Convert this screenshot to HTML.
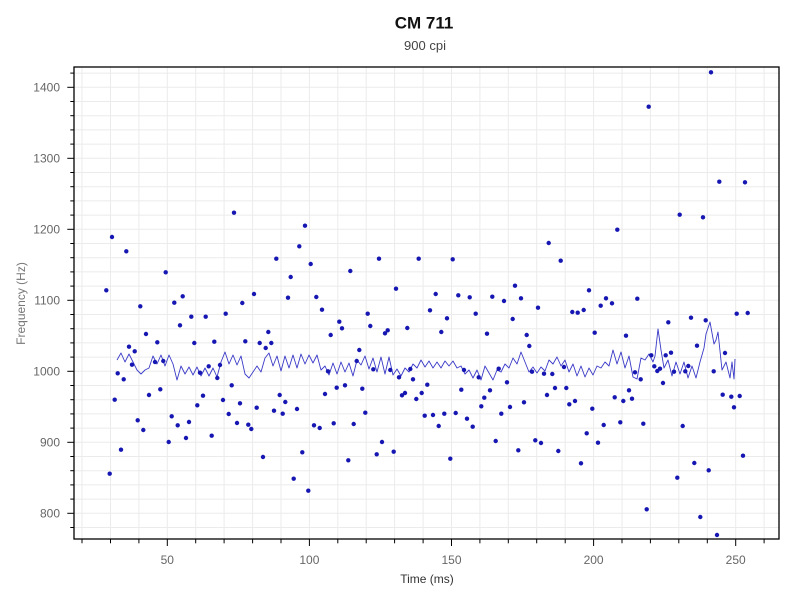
<!DOCTYPE html>
<html>
<head>
<meta charset="utf-8">
<style>
html,body{margin:0;padding:0;background:#fff;}
svg{display:block;}
text{font-family:"Liberation Sans",sans-serif;}
</style>
</head>
<body>
<svg width="800" height="600" viewBox="0 0 800 600" xmlns="http://www.w3.org/2000/svg">
<rect x="0" y="0" width="800" height="600" fill="#fff"/>
<text x="424" y="28.5" text-anchor="middle" font-size="17" font-weight="bold" fill="#111">CM 711</text>
<text x="425" y="50" text-anchor="middle" font-size="13" fill="#444">900 cpi</text>

<g stroke="#ebebeb" stroke-width="1">
<line x1="82" y1="67" x2="82" y2="539"/>
<line x1="110.5" y1="67" x2="110.5" y2="539"/>
<line x1="138.9" y1="67" x2="138.9" y2="539"/>
<line x1="167.3" y1="67" x2="167.3" y2="539"/>
<line x1="195.7" y1="67" x2="195.7" y2="539"/>
<line x1="224.1" y1="67" x2="224.1" y2="539"/>
<line x1="252.6" y1="67" x2="252.6" y2="539"/>
<line x1="281" y1="67" x2="281" y2="539"/>
<line x1="309.4" y1="67" x2="309.4" y2="539"/>
<line x1="337.8" y1="67" x2="337.8" y2="539"/>
<line x1="366.2" y1="67" x2="366.2" y2="539"/>
<line x1="394.6" y1="67" x2="394.6" y2="539"/>
<line x1="423.1" y1="67" x2="423.1" y2="539"/>
<line x1="451.5" y1="67" x2="451.5" y2="539"/>
<line x1="479.9" y1="67" x2="479.9" y2="539"/>
<line x1="508.3" y1="67" x2="508.3" y2="539"/>
<line x1="536.7" y1="67" x2="536.7" y2="539"/>
<line x1="565.2" y1="67" x2="565.2" y2="539"/>
<line x1="593.6" y1="67" x2="593.6" y2="539"/>
<line x1="622" y1="67" x2="622" y2="539"/>
<line x1="650.4" y1="67" x2="650.4" y2="539"/>
<line x1="678.8" y1="67" x2="678.8" y2="539"/>
<line x1="707.3" y1="67" x2="707.3" y2="539"/>
<line x1="735.7" y1="67" x2="735.7" y2="539"/>
<line x1="764.1" y1="67" x2="764.1" y2="539"/>
<line x1="74" y1="73.1" x2="779" y2="73.1"/>
<line x1="74" y1="87.3" x2="779" y2="87.3"/>
<line x1="74" y1="101.5" x2="779" y2="101.5"/>
<line x1="74" y1="115.7" x2="779" y2="115.7"/>
<line x1="74" y1="129.9" x2="779" y2="129.9"/>
<line x1="74" y1="144.1" x2="779" y2="144.1"/>
<line x1="74" y1="158.3" x2="779" y2="158.3"/>
<line x1="74" y1="172.5" x2="779" y2="172.5"/>
<line x1="74" y1="186.7" x2="779" y2="186.7"/>
<line x1="74" y1="200.9" x2="779" y2="200.9"/>
<line x1="74" y1="215.1" x2="779" y2="215.1"/>
<line x1="74" y1="229.3" x2="779" y2="229.3"/>
<line x1="74" y1="243.5" x2="779" y2="243.5"/>
<line x1="74" y1="257.7" x2="779" y2="257.7"/>
<line x1="74" y1="271.9" x2="779" y2="271.9"/>
<line x1="74" y1="286.1" x2="779" y2="286.1"/>
<line x1="74" y1="300.3" x2="779" y2="300.3"/>
<line x1="74" y1="314.5" x2="779" y2="314.5"/>
<line x1="74" y1="328.7" x2="779" y2="328.7"/>
<line x1="74" y1="342.9" x2="779" y2="342.9"/>
<line x1="74" y1="357.1" x2="779" y2="357.1"/>
<line x1="74" y1="371.3" x2="779" y2="371.3"/>
<line x1="74" y1="385.5" x2="779" y2="385.5"/>
<line x1="74" y1="399.7" x2="779" y2="399.7"/>
<line x1="74" y1="413.9" x2="779" y2="413.9"/>
<line x1="74" y1="428.1" x2="779" y2="428.1"/>
<line x1="74" y1="442.3" x2="779" y2="442.3"/>
<line x1="74" y1="456.5" x2="779" y2="456.5"/>
<line x1="74" y1="470.7" x2="779" y2="470.7"/>
<line x1="74" y1="484.9" x2="779" y2="484.9"/>
<line x1="74" y1="499.1" x2="779" y2="499.1"/>
<line x1="74" y1="513.3" x2="779" y2="513.3"/>
<line x1="74" y1="527.5" x2="779" y2="527.5"/>
</g>

<polyline fill="none" stroke="#3a3ac8" stroke-width="0.9" stroke-linejoin="round" points="117,360 121,353 125,362 129,354 133,362 137,370 141,374 145,370 149,368 153,356 157,364 161,355 165,366 169,355 173,364 177,380 181,366 185,374 189,367 193,375 197,367 201,376 205,368 209,376 213,368 217,377 221,362 225,352 229,364 233,355 237,365 241,356 245,374 249,378 253,372 257,366 261,372 265,358 269,353 273,366 277,356 281,371 285,356 289,368 293,355 297,368 301,354 305,364 309,355 313,363 317,355 321,370 325,366 329,375 333,363 337,374 341,362 345,372 349,363 353,376 357,360 361,365 365,356 369,369 373,358 377,372 381,357 385,374 389,357 393,375 397,369 401,376 405,368 409,372 413,364 417,368 421,360 425,367 429,361 433,368 437,362 441,368 445,361 449,366 453,361 457,368 461,366 465,374 469,370 473,378 477,370 481,380 485,366 489,373 493,380 497,370 501,372 505,364 509,368 513,358 517,364 521,352 525,362 529,372 533,367 537,373 541,367 545,371 549,360 553,364 557,357 561,366 565,360 569,372 573,364 577,376 581,366 585,377 589,368 593,375 597,366 601,368 605,362 609,366 613,350 617,364 621,352 625,368 629,356 633,377 637,379 641,358 645,360 649,354 653,362 655,356 658,329 661,350 664,368 668,360 672,376 676,362 680,374 684,362 688,378 692,366 696,378 700,362 704,348 706,334 710,322 714,344 716,340 718,332 722,370 726,362 730,378 732,362 734,379 735,359"/>

<g fill="#1616b2">
<circle cx="106.3" cy="290.3" r="2.2"/>
<circle cx="112" cy="237" r="2.2"/>
<circle cx="126.3" cy="251.3" r="2.2"/>
<circle cx="140.3" cy="306.3" r="2.2"/>
<circle cx="146" cy="334" r="2.2"/>
<circle cx="129" cy="346.7" r="2.2"/>
<circle cx="134.7" cy="351.3" r="2.2"/>
<circle cx="132" cy="364.7" r="2.2"/>
<circle cx="117.7" cy="373.3" r="2.2"/>
<circle cx="123.7" cy="379.3" r="2.2"/>
<circle cx="157.3" cy="342.3" r="2.2"/>
<circle cx="155" cy="362" r="2.2"/>
<circle cx="163.3" cy="361" r="2.2"/>
<circle cx="165.7" cy="272.3" r="2.2"/>
<circle cx="174.3" cy="302.7" r="2.2"/>
<circle cx="182.7" cy="296.3" r="2.2"/>
<circle cx="180" cy="325.3" r="2.2"/>
<circle cx="191.3" cy="316.7" r="2.2"/>
<circle cx="194.3" cy="343" r="2.2"/>
<circle cx="205.7" cy="316.7" r="2.2"/>
<circle cx="200" cy="372.7" r="2.2"/>
<circle cx="208.7" cy="366.3" r="2.2"/>
<circle cx="214.3" cy="341.7" r="2.2"/>
<circle cx="220" cy="365" r="2.2"/>
<circle cx="217.3" cy="378" r="2.2"/>
<circle cx="225.7" cy="313.7" r="2.2"/>
<circle cx="234" cy="212.7" r="2.2"/>
<circle cx="242.3" cy="303" r="2.2"/>
<circle cx="254" cy="294" r="2.2"/>
<circle cx="245.3" cy="341.3" r="2.2"/>
<circle cx="259.7" cy="343" r="2.2"/>
<circle cx="265.7" cy="348" r="2.2"/>
<circle cx="268.3" cy="332" r="2.2"/>
<circle cx="271.3" cy="343" r="2.2"/>
<circle cx="276.3" cy="258.7" r="2.2"/>
<circle cx="288" cy="297.7" r="2.2"/>
<circle cx="290.7" cy="277" r="2.2"/>
<circle cx="299.3" cy="246.3" r="2.2"/>
<circle cx="305" cy="225.7" r="2.2"/>
<circle cx="310.7" cy="264" r="2.2"/>
<circle cx="114.7" cy="399.7" r="2.2"/>
<circle cx="121" cy="449.7" r="2.2"/>
<circle cx="109.7" cy="473.7" r="2.2"/>
<circle cx="149" cy="395" r="2.2"/>
<circle cx="160.3" cy="389.3" r="2.2"/>
<circle cx="137.7" cy="420.3" r="2.2"/>
<circle cx="143.3" cy="430" r="2.2"/>
<circle cx="171.7" cy="416.3" r="2.2"/>
<circle cx="177.7" cy="425.3" r="2.2"/>
<circle cx="168.7" cy="442" r="2.2"/>
<circle cx="189" cy="422" r="2.2"/>
<circle cx="186" cy="438" r="2.2"/>
<circle cx="197.3" cy="405.3" r="2.2"/>
<circle cx="203" cy="395.7" r="2.2"/>
<circle cx="211.7" cy="435.7" r="2.2"/>
<circle cx="223" cy="400" r="2.2"/>
<circle cx="231.7" cy="385.3" r="2.2"/>
<circle cx="228.7" cy="414" r="2.2"/>
<circle cx="237" cy="423" r="2.2"/>
<circle cx="240" cy="403.3" r="2.2"/>
<circle cx="248.3" cy="424.7" r="2.2"/>
<circle cx="251.3" cy="429" r="2.2"/>
<circle cx="256.7" cy="407.7" r="2.2"/>
<circle cx="263" cy="457" r="2.2"/>
<circle cx="274" cy="410.7" r="2.2"/>
<circle cx="279.7" cy="395" r="2.2"/>
<circle cx="285.3" cy="402" r="2.2"/>
<circle cx="282.7" cy="413.7" r="2.2"/>
<circle cx="297" cy="409" r="2.2"/>
<circle cx="302.3" cy="452.3" r="2.2"/>
<circle cx="293.7" cy="478.7" r="2.2"/>
<circle cx="308.3" cy="490.7" r="2.2"/>
<circle cx="314" cy="425.3" r="2.2"/>
<circle cx="316.3" cy="297" r="2.2"/>
<circle cx="322" cy="309.7" r="2.2"/>
<circle cx="330.7" cy="335" r="2.2"/>
<circle cx="339.3" cy="321.7" r="2.2"/>
<circle cx="342" cy="328.3" r="2.2"/>
<circle cx="350.3" cy="271" r="2.2"/>
<circle cx="359.3" cy="350" r="2.2"/>
<circle cx="356.7" cy="361" r="2.2"/>
<circle cx="328" cy="371.3" r="2.2"/>
<circle cx="367.7" cy="313.7" r="2.2"/>
<circle cx="370.3" cy="326" r="2.2"/>
<circle cx="379" cy="258.7" r="2.2"/>
<circle cx="373.3" cy="369.3" r="2.2"/>
<circle cx="385" cy="333.3" r="2.2"/>
<circle cx="387.7" cy="330.3" r="2.2"/>
<circle cx="390.3" cy="370" r="2.2"/>
<circle cx="396" cy="288.7" r="2.2"/>
<circle cx="399" cy="377.3" r="2.2"/>
<circle cx="407.3" cy="328" r="2.2"/>
<circle cx="410.3" cy="369" r="2.2"/>
<circle cx="413" cy="379.3" r="2.2"/>
<circle cx="418.7" cy="258.7" r="2.2"/>
<circle cx="430" cy="310.3" r="2.2"/>
<circle cx="435.7" cy="294" r="2.2"/>
<circle cx="441.3" cy="332" r="2.2"/>
<circle cx="447" cy="318.3" r="2.2"/>
<circle cx="452.7" cy="259.3" r="2.2"/>
<circle cx="458.3" cy="295.3" r="2.2"/>
<circle cx="464" cy="370" r="2.2"/>
<circle cx="469.7" cy="297.3" r="2.2"/>
<circle cx="475.7" cy="313.7" r="2.2"/>
<circle cx="478.7" cy="377.3" r="2.2"/>
<circle cx="487" cy="333.7" r="2.2"/>
<circle cx="492.3" cy="296.7" r="2.2"/>
<circle cx="498.7" cy="368.7" r="2.2"/>
<circle cx="504" cy="301" r="2.2"/>
<circle cx="512.7" cy="319" r="2.2"/>
<circle cx="515" cy="285.7" r="2.2"/>
<circle cx="521" cy="298.3" r="2.2"/>
<circle cx="526.7" cy="335" r="2.2"/>
<circle cx="529.3" cy="346" r="2.2"/>
<circle cx="538" cy="307.7" r="2.2"/>
<circle cx="532" cy="371.7" r="2.2"/>
<circle cx="544" cy="373.7" r="2.2"/>
<circle cx="548.7" cy="243" r="2.2"/>
<circle cx="319.7" cy="428" r="2.2"/>
<circle cx="325" cy="394" r="2.2"/>
<circle cx="333.7" cy="423.3" r="2.2"/>
<circle cx="336.7" cy="387.7" r="2.2"/>
<circle cx="345" cy="385.3" r="2.2"/>
<circle cx="348.3" cy="460.3" r="2.2"/>
<circle cx="353.7" cy="424" r="2.2"/>
<circle cx="362.3" cy="388.7" r="2.2"/>
<circle cx="365.3" cy="412.7" r="2.2"/>
<circle cx="376.7" cy="454.3" r="2.2"/>
<circle cx="382" cy="442" r="2.2"/>
<circle cx="393.7" cy="451.7" r="2.2"/>
<circle cx="402" cy="395.3" r="2.2"/>
<circle cx="405" cy="393" r="2.2"/>
<circle cx="416.3" cy="399" r="2.2"/>
<circle cx="421.7" cy="393" r="2.2"/>
<circle cx="427.3" cy="384.7" r="2.2"/>
<circle cx="424.7" cy="415.7" r="2.2"/>
<circle cx="433" cy="415" r="2.2"/>
<circle cx="438.7" cy="426" r="2.2"/>
<circle cx="444.3" cy="413.7" r="2.2"/>
<circle cx="450.3" cy="458.7" r="2.2"/>
<circle cx="455.7" cy="413" r="2.2"/>
<circle cx="461.3" cy="389.7" r="2.2"/>
<circle cx="467" cy="418.7" r="2.2"/>
<circle cx="472.7" cy="426.7" r="2.2"/>
<circle cx="481.3" cy="406.3" r="2.2"/>
<circle cx="484.3" cy="397.7" r="2.2"/>
<circle cx="490" cy="390.3" r="2.2"/>
<circle cx="495.7" cy="441" r="2.2"/>
<circle cx="501.3" cy="413.7" r="2.2"/>
<circle cx="507" cy="382.3" r="2.2"/>
<circle cx="510" cy="407" r="2.2"/>
<circle cx="518.3" cy="450.3" r="2.2"/>
<circle cx="524" cy="402.3" r="2.2"/>
<circle cx="535.3" cy="440.3" r="2.2"/>
<circle cx="541" cy="443" r="2.2"/>
<circle cx="547" cy="395" r="2.2"/>
<circle cx="711" cy="72.3" r="2.2"/>
<circle cx="648.7" cy="106.7" r="2.2"/>
<circle cx="719.3" cy="181.7" r="2.2"/>
<circle cx="745" cy="182.3" r="2.2"/>
<circle cx="679.7" cy="214.7" r="2.2"/>
<circle cx="703" cy="217.3" r="2.2"/>
<circle cx="617.3" cy="229.7" r="2.2"/>
<circle cx="560.7" cy="260.7" r="2.2"/>
<circle cx="589" cy="290.3" r="2.2"/>
<circle cx="572.3" cy="312" r="2.2"/>
<circle cx="577.7" cy="312.7" r="2.2"/>
<circle cx="583.7" cy="310" r="2.2"/>
<circle cx="600.7" cy="305.7" r="2.2"/>
<circle cx="606" cy="298.3" r="2.2"/>
<circle cx="612" cy="303.3" r="2.2"/>
<circle cx="637.3" cy="298.7" r="2.2"/>
<circle cx="594.7" cy="332.7" r="2.2"/>
<circle cx="626" cy="335.7" r="2.2"/>
<circle cx="668.3" cy="322.3" r="2.2"/>
<circle cx="691" cy="317.7" r="2.2"/>
<circle cx="705.7" cy="320.3" r="2.2"/>
<circle cx="736.7" cy="313.7" r="2.2"/>
<circle cx="747.7" cy="313" r="2.2"/>
<circle cx="697" cy="345.7" r="2.2"/>
<circle cx="725" cy="353" r="2.2"/>
<circle cx="651.3" cy="355.3" r="2.2"/>
<circle cx="665.7" cy="355.3" r="2.2"/>
<circle cx="671" cy="352.7" r="2.2"/>
<circle cx="552.3" cy="374" r="2.2"/>
<circle cx="564" cy="367" r="2.2"/>
<circle cx="635" cy="372.3" r="2.2"/>
<circle cx="640.7" cy="379.3" r="2.2"/>
<circle cx="654.3" cy="366.3" r="2.2"/>
<circle cx="657.3" cy="371" r="2.2"/>
<circle cx="660" cy="368.7" r="2.2"/>
<circle cx="674" cy="371.7" r="2.2"/>
<circle cx="685.3" cy="371.3" r="2.2"/>
<circle cx="688.3" cy="366" r="2.2"/>
<circle cx="713.7" cy="371.3" r="2.2"/>
<circle cx="555" cy="388" r="2.2"/>
<circle cx="566.3" cy="388" r="2.2"/>
<circle cx="569.3" cy="404.3" r="2.2"/>
<circle cx="575" cy="401" r="2.2"/>
<circle cx="592.3" cy="408.7" r="2.2"/>
<circle cx="586.7" cy="433.3" r="2.2"/>
<circle cx="598" cy="442.7" r="2.2"/>
<circle cx="603.7" cy="425" r="2.2"/>
<circle cx="558.3" cy="451" r="2.2"/>
<circle cx="581" cy="463.3" r="2.2"/>
<circle cx="614.7" cy="397.3" r="2.2"/>
<circle cx="623.3" cy="401" r="2.2"/>
<circle cx="629" cy="390.3" r="2.2"/>
<circle cx="632" cy="398.7" r="2.2"/>
<circle cx="620.3" cy="422.3" r="2.2"/>
<circle cx="643.3" cy="423.7" r="2.2"/>
<circle cx="646.7" cy="509.3" r="2.2"/>
<circle cx="663" cy="383" r="2.2"/>
<circle cx="682.7" cy="426" r="2.2"/>
<circle cx="677.3" cy="477.7" r="2.2"/>
<circle cx="694.3" cy="463" r="2.2"/>
<circle cx="708.7" cy="470.3" r="2.2"/>
<circle cx="700.3" cy="517" r="2.2"/>
<circle cx="717" cy="535" r="2.2"/>
<circle cx="722.7" cy="394.7" r="2.2"/>
<circle cx="731.3" cy="396.7" r="2.2"/>
<circle cx="739.7" cy="396" r="2.2"/>
<circle cx="734" cy="407.3" r="2.2"/>
<circle cx="743" cy="455.7" r="2.2"/>
</g>

<rect x="74" y="67" width="705" height="472" fill="none" stroke="#000" stroke-width="1.3"/>

<g stroke="#000" stroke-width="1">
<line x1="67.3" y1="87.3" x2="74" y2="87.3"/>
<line x1="67.3" y1="158.3" x2="74" y2="158.3"/>
<line x1="67.3" y1="229.3" x2="74" y2="229.3"/>
<line x1="67.3" y1="300.3" x2="74" y2="300.3"/>
<line x1="67.3" y1="371.3" x2="74" y2="371.3"/>
<line x1="67.3" y1="442.3" x2="74" y2="442.3"/>
<line x1="67.3" y1="513.3" x2="74" y2="513.3"/>
<line x1="70.3" y1="73.1" x2="74" y2="73.1"/>
<line x1="70.3" y1="101.5" x2="74" y2="101.5"/>
<line x1="70.3" y1="115.7" x2="74" y2="115.7"/>
<line x1="70.3" y1="129.9" x2="74" y2="129.9"/>
<line x1="70.3" y1="144.1" x2="74" y2="144.1"/>
<line x1="70.3" y1="172.5" x2="74" y2="172.5"/>
<line x1="70.3" y1="186.7" x2="74" y2="186.7"/>
<line x1="70.3" y1="200.9" x2="74" y2="200.9"/>
<line x1="70.3" y1="215.1" x2="74" y2="215.1"/>
<line x1="70.3" y1="243.5" x2="74" y2="243.5"/>
<line x1="70.3" y1="257.7" x2="74" y2="257.7"/>
<line x1="70.3" y1="271.9" x2="74" y2="271.9"/>
<line x1="70.3" y1="286.1" x2="74" y2="286.1"/>
<line x1="70.3" y1="314.5" x2="74" y2="314.5"/>
<line x1="70.3" y1="328.7" x2="74" y2="328.7"/>
<line x1="70.3" y1="342.9" x2="74" y2="342.9"/>
<line x1="70.3" y1="357.1" x2="74" y2="357.1"/>
<line x1="70.3" y1="385.5" x2="74" y2="385.5"/>
<line x1="70.3" y1="399.7" x2="74" y2="399.7"/>
<line x1="70.3" y1="413.9" x2="74" y2="413.9"/>
<line x1="70.3" y1="428.1" x2="74" y2="428.1"/>
<line x1="70.3" y1="456.5" x2="74" y2="456.5"/>
<line x1="70.3" y1="470.7" x2="74" y2="470.7"/>
<line x1="70.3" y1="484.9" x2="74" y2="484.9"/>
<line x1="70.3" y1="499.1" x2="74" y2="499.1"/>
<line x1="70.3" y1="527.5" x2="74" y2="527.5"/>
</g>
<g font-size="12" fill="#666" text-anchor="end">
<text x="60" y="91.5">1400</text>
<text x="60" y="162.5">1300</text>
<text x="60" y="233.5">1200</text>
<text x="60" y="304.5">1100</text>
<text x="60" y="375.5">1000</text>
<text x="60" y="446.5">900</text>
<text x="60" y="517.5">800</text>
</g>

<g stroke="#000" stroke-width="1">
<line x1="82" y1="539" x2="82" y2="543.3"/>
<line x1="110.5" y1="539" x2="110.5" y2="543.3"/>
<line x1="138.9" y1="539" x2="138.9" y2="543.3"/>
<line x1="167.3" y1="539" x2="167.3" y2="546"/>
<line x1="195.7" y1="539" x2="195.7" y2="543.3"/>
<line x1="224.1" y1="539" x2="224.1" y2="543.3"/>
<line x1="252.6" y1="539" x2="252.6" y2="543.3"/>
<line x1="281" y1="539" x2="281" y2="543.3"/>
<line x1="309.4" y1="539" x2="309.4" y2="546"/>
<line x1="337.8" y1="539" x2="337.8" y2="543.3"/>
<line x1="366.2" y1="539" x2="366.2" y2="543.3"/>
<line x1="394.6" y1="539" x2="394.6" y2="543.3"/>
<line x1="423.1" y1="539" x2="423.1" y2="543.3"/>
<line x1="451.5" y1="539" x2="451.5" y2="546"/>
<line x1="479.9" y1="539" x2="479.9" y2="543.3"/>
<line x1="508.3" y1="539" x2="508.3" y2="543.3"/>
<line x1="536.7" y1="539" x2="536.7" y2="543.3"/>
<line x1="565.2" y1="539" x2="565.2" y2="543.3"/>
<line x1="593.6" y1="539" x2="593.6" y2="546"/>
<line x1="622" y1="539" x2="622" y2="543.3"/>
<line x1="650.4" y1="539" x2="650.4" y2="543.3"/>
<line x1="678.8" y1="539" x2="678.8" y2="543.3"/>
<line x1="707.3" y1="539" x2="707.3" y2="543.3"/>
<line x1="735.7" y1="539" x2="735.7" y2="546"/>
<line x1="764.1" y1="539" x2="764.1" y2="543.3"/>
</g>
<g font-size="12" fill="#666" text-anchor="middle">
<text x="167.3" y="564">50</text>
<text x="309.4" y="564">100</text>
<text x="451.5" y="564">150</text>
<text x="593.6" y="564">200</text>
<text x="735.7" y="564">250</text>
</g>

<text x="427" y="583" text-anchor="middle" font-size="12" fill="#333">Time (ms)</text>
<text transform="translate(25,303.5) rotate(-90)" text-anchor="middle" font-size="12" fill="#777">Frequency (Hz)</text>
</svg>
</body>
</html>
